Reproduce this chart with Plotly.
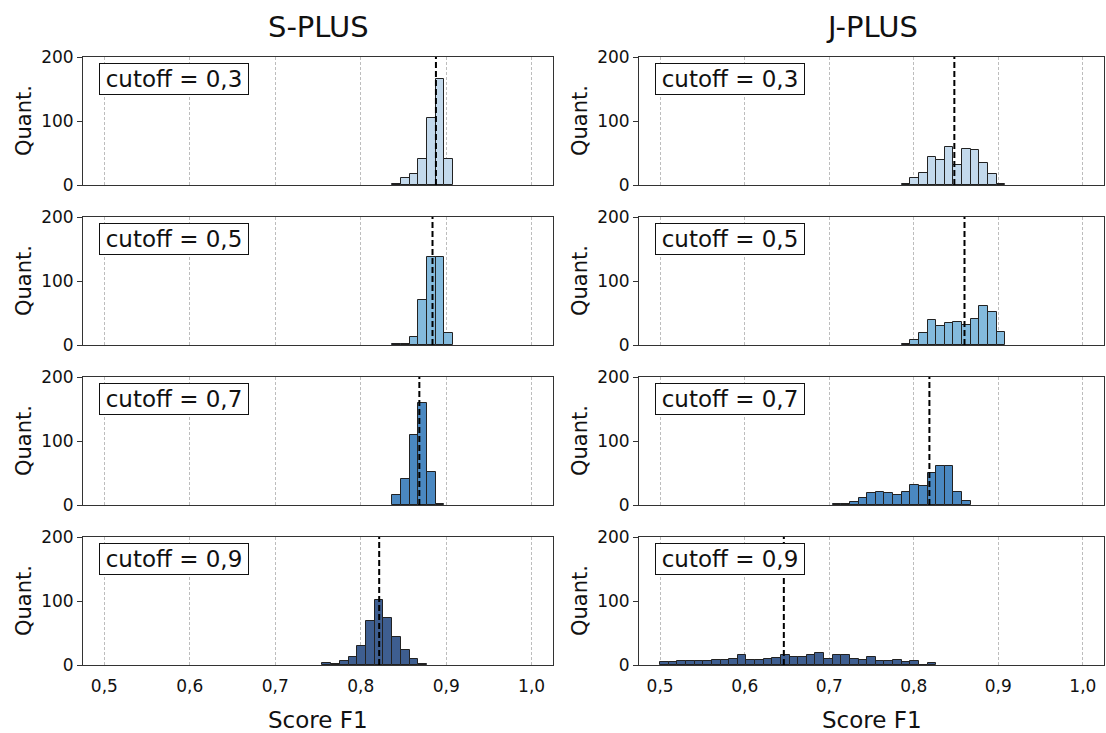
import numpy as np
import plotly.graph_objects as go

# ---------------- data ----------------
surveys = ["S-PLUS", "J-PLUS"]
cutoffs = ["0,3", "0,5", "0,7", "0,9"]
bin_edges = np.linspace(0.5, 1.0, 50)          # common histogram bins

splus_first_bin = [33, 33, 33, 25]
splus_03 = [1, 11, 17, 41, 104, 166, 40]
splus_05 = [1, 1, 12, 70, 137, 137, 19]
splus_07 = [15, 41, 110, 160, 51, 2]
splus_09 = [3, 1, 6, 13, 29, 68, 102, 73, 43, 24, 9, 2]
splus_mean = [0.888, 0.884, 0.8686, 0.8216]

jplus_first_bin = [28, 28, 20, 0]
jplus_03 = [2, 11, 19, 44, 39, 60, 32, 57, 55, 34, 17, 1]
jplus_05 = [1, 8, 18, 39, 30, 34, 36, 32, 40, 61, 51, 21]
jplus_07 = [1, 2, 5, 11, 18, 20, 18, 15, 20, 31, 29, 50, 61, 61, 20, 6]
jplus_09 = [4, 4, 6, 7, 6, 6, 8, 8, 10, 16, 8, 8, 10, 11, 16, 13, 13, 16, 19, 10,
            16, 15, 10, 8, 13, 7, 7, 8, 4, 6, 0, 3]
jplus_mean = [0.848, 0.860, 0.8185, 0.6463]

x_ticks = [0.5, 0.6, 0.7, 0.8, 0.9, 1.0]
x_ticklabels = ["0,5", "0,6", "0,7", "0,8", "0,9", "1,0"]
y_ticks = [0, 100, 200]

colors = ["#c3d9ec", "#83badd", "#4a88c1", "#3e5e90"]

counts = {"S-PLUS": [splus_03, splus_05, splus_07, splus_09],
          "J-PLUS": [jplus_03, jplus_05, jplus_07, jplus_09]}
first_bin = {"S-PLUS": splus_first_bin, "J-PLUS": jplus_first_bin}
means = {"S-PLUS": splus_mean, "J-PLUS": jplus_mean}

# ---------------- layout geometry (pixels) ----------------
W, H = 1106, 733
col_px = [(83, 553), (639, 1104)]
row_px = [(57, 185), (217, 345), (377, 505), (537, 665)]
FONT = "DejaVu Sans"

fig = go.Figure()
layout = dict(
    width=W, height=H, margin=dict(l=0, r=0, t=0, b=0, autoexpand=False),
    paper_bgcolor="white", plot_bgcolor="white", showlegend=False,
    font=dict(family=FONT, color="#111"), bargap=0,
)
annotations = []
shapes = []

for c, survey in enumerate(surveys):
    for r in range(4):
        idx = r * 2 + c + 1
        xa = "x" if idx == 1 else f"x{idx}"
        ya = "y" if idx == 1 else f"y{idx}"
        cnt = counts[survey][r]
        k0 = first_bin[survey][r]
        lefts = bin_edges[k0:k0 + len(cnt)]
        rights = bin_edges[k0 + 1:k0 + 1 + len(cnt)]
        centers = (lefts + rights) / 2
        widths = rights - lefts
        fig.add_trace(go.Bar(
            x=centers, y=cnt, width=widths, xaxis=xa, yaxis=ya,
            marker=dict(color=colors[r], line=dict(color="#222", width=1)),
            hoverinfo="x+y",
        ))
        x0, x1 = col_px[c]
        y0, y1 = row_px[r]
        bottom = r == 3
        layout["xaxis" if idx == 1 else f"xaxis{idx}"] = dict(
            domain=[x0 / W, x1 / W], anchor=ya, range=[0.475, 1.025],
            tickvals=x_ticks, ticktext=x_ticklabels,
            showticklabels=bottom, ticks="", ticklabelstandoff=6,
            tickfont=dict(size=17, family=FONT),
            showgrid=True, gridcolor="#bdbdbd", griddash="3px,2px", gridwidth=1,
            showline=True, linecolor="#333", linewidth=1, mirror=True,
            zeroline=False, fixedrange=True, automargin=False,
        )
        layout["yaxis" if idx == 1 else f"yaxis{idx}"] = dict(
            domain=[1 - y1 / H, 1 - y0 / H], anchor=xa, range=[0, 200],
            tickvals=y_ticks, ticks="outside", ticklen=5, tickcolor="#333",
            tickfont=dict(size=17, family=FONT),
            showgrid=False, showline=True, linecolor="#333", linewidth=1,
            mirror=True, zeroline=False, fixedrange=True, automargin=False,
        )
        # mean line
        shapes.append(dict(
            type="line", xref=xa, yref=f"{ya} domain",
            x0=means[survey][r], x1=means[survey][r], y0=0, y1=1,
            line=dict(color="black", width=2, dash="6px,3px"),
        ))
        # cutoff label box
        annotations.append(dict(
            text=f"cutoff = {cutoffs[r]}", xref="paper", yref="paper",
            x=(x0 + 16) / W, y=1 - (y0 + 6) / H, xanchor="left", yanchor="top",
            width=148, height=30, align="center",
            showarrow=False, font=dict(size=23, family=FONT, color="#111"),
            bgcolor="white", bordercolor="#111", borderwidth=1, borderpad=0,
        ))
        # y label
        annotations.append(dict(
            text="Quant.", xref="paper", yref="paper",
            x=(x0 - 59) / W, y=1 - (y0 + y1) / 2 / H,
            xanchor="center", yanchor="middle", textangle=-90,
            showarrow=False, font=dict(size=21, family=FONT, color="#111"),
        ))
    cx = (col_px[c][0] + col_px[c][1]) / 2 / W
    annotations.append(dict(
        text=survey, xref="paper", yref="paper", x=cx, y=1 - 27 / H,
        xanchor="center", yanchor="middle", showarrow=False,
        font=dict(size=29, family=FONT, color="#111"),
    ))
    annotations.append(dict(
        text="Score F1", xref="paper", yref="paper", x=cx, y=1 - 720 / H,
        xanchor="center", yanchor="middle", showarrow=False,
        font=dict(size=23, family=FONT, color="#111"),
    ))

layout["annotations"] = annotations
layout["shapes"] = shapes
fig.update_layout(**layout)
fig.write_html("out.html")
